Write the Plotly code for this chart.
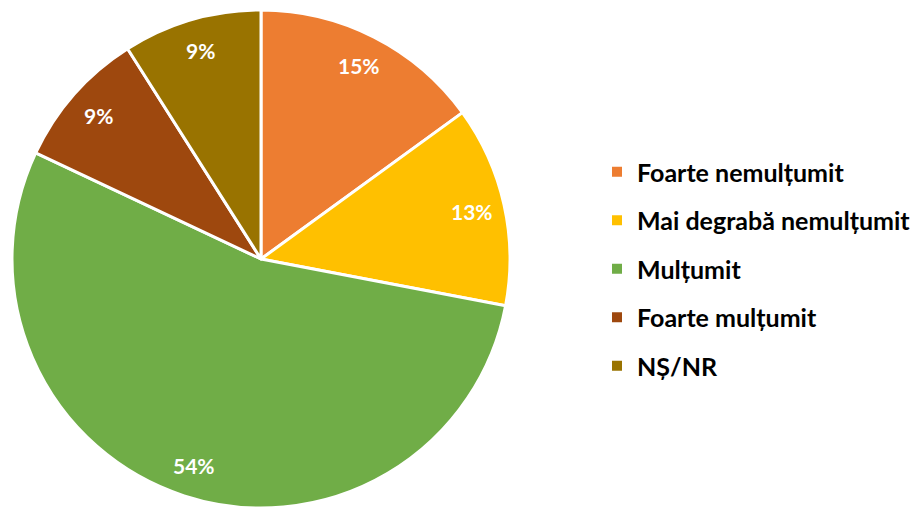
import numpy as np
import plotly.graph_objects as go

# date
categorii = ["Foarte nemulțumit", "Mai degrabă nemulțumit", "Mulțumit",
             "Foarte mulțumit", "NȘ/NR"]
procente = [15, 13, 54, 9, 9]
culori = ["#ED7D31", "#FFC000", "#70AD47", "#9E480E", "#997300"]

W, H = 918, 508
CX, CY, R = 261, 259, 249      # centrul si raza placintei, in pixeli
FONT = "Lato"

fig = go.Figure()

fig.add_trace(go.Pie(
    labels=categorii,
    values=procente,
    sort=False,
    direction="clockwise",
    rotation=0,
    marker=dict(colors=culori, line=dict(color="white", width=3)),
    textinfo="none",
    hoverinfo="label+percent",
    showlegend=False,
    domain=dict(x=[(CX - R) / W, (CX + R) / W],
                y=[max(0, 1 - (CY + R) / H), min(1, 1 - (CY - R) / H)]),
))

# legenda: cate un grup pe categorie ca sa avem spatiu intre randuri
for cat, clr in zip(categorii, culori):
    fig.add_trace(go.Scatter(
        x=[None], y=[None], mode="markers", name=cat,
        legendgroup=cat,
        marker=dict(symbol="square", size=10, color=clr),
    ))

# etichete procentuale in interiorul felii
total = sum(procente)
cum = np.cumsum([0] + procente)
for i, v in enumerate(procente):
    mid = (cum[i] + v / 2) / total * 2 * np.pi
    px = CX + 0.87 * R * np.sin(mid)
    py = CY - 0.87 * R * np.cos(mid)
    fig.add_annotation(
        x=px / W, y=1 - py / H, xref="paper", yref="paper",
        xanchor="center", yanchor="middle",
        text=f"<b>{v}%</b>", showarrow=False,
        font=dict(family=FONT, size=21, color="white"),
    )

fig.update_layout(
    width=W, height=H,
    margin=dict(l=0, r=0, t=0, b=0, autoexpand=False),
    paper_bgcolor="white",
    plot_bgcolor="white",
    xaxis=dict(visible=False),
    yaxis=dict(visible=False),
    showlegend=True,
    legend=dict(
        x=597 / W, xanchor="left",
        y=1 - 269 / H, yanchor="middle",
        tracegroupgap=13,
        font=dict(family=FONT, size=25, color="black", weight="bold"),
        itemclick=False, itemdoubleclick=False,
    ),
)

fig.write_html("out.html", config={"displayModeBar": False},
               post_script="document.body.style.margin='0';")
